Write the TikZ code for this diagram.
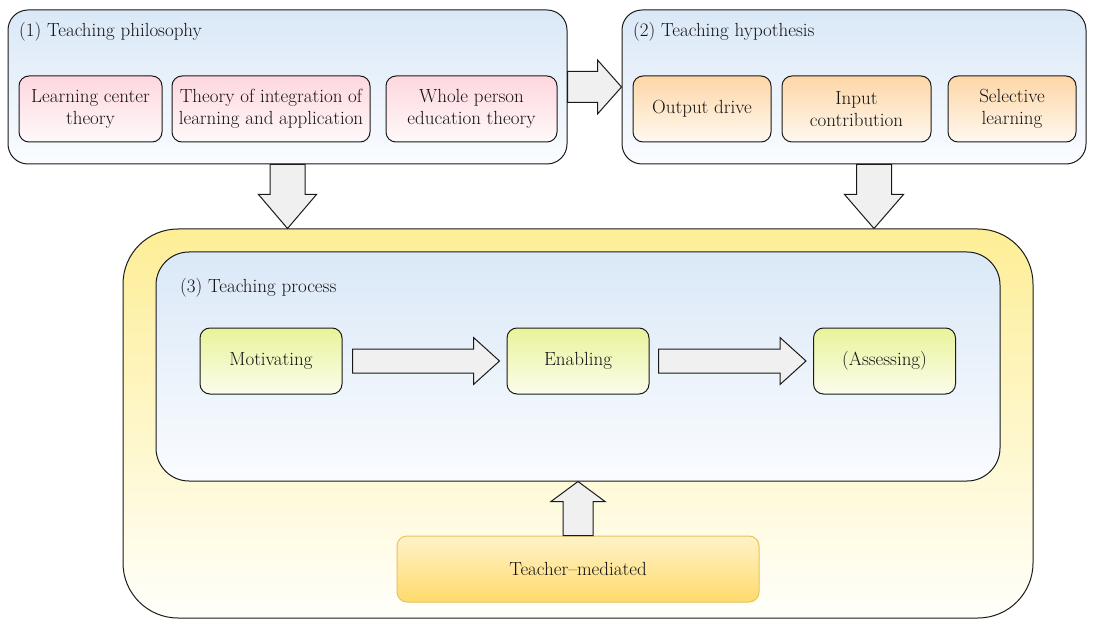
\documentclass[tikz,border=0pt]{standalone}
\usetikzlibrary{calc}
\definecolor{txt}{HTML}{141213}
\definecolor{edge}{HTML}{1A1A1A}
\definecolor{bluetop}{HTML}{DAE8F7}
\definecolor{bluebot}{HTML}{FAFCFF}
\definecolor{pinktop}{HTML}{FDD7DE}
\definecolor{pinkbot}{HTML}{FFF9FA}
\definecolor{orgtop}{HTML}{FDD6A6}
\definecolor{orgbot}{HTML}{FFF9F0}
\definecolor{grntop}{HTML}{E9F39A}
\definecolor{grnbot}{HTML}{FBFDEB}
\definecolor{yeltop}{HTML}{FDEE96}
\definecolor{yelbot}{HTML}{FFFFFB}
\definecolor{tmtop}{HTML}{FFF2C8}
\definecolor{tmbot}{HTML}{FFDB6C}
\definecolor{tmedge}{HTML}{E6C35C}
\definecolor{arrfill}{HTML}{F0F0F0}
\newcommand{\fsz}{\fontsize{19}{22}\selectfont}
\newcommand{\harrowblk}[5]{%
  \draw[barrow] let \p1=(#1), \p2=(#2) in
    (\x1,\y1+#3) -- (\x2-#5,\y1+#3) -- (\x2-#5,\y1+#4) -- (\x2,\y1)
    -- (\x2-#5,\y1-#4) -- (\x2-#5,\y1-#3) -- (\x1,\y1-#3) -- cycle;}
\newcommand{\varrowblk}[5]{%
  \draw[barrow] let \p1=(#1), \p2=(#2) in
    (\x1-#3,\y1) -- (\x1-#3,\y2+#5) -- (\x1-#4,\y2+#5) -- (\x1,\y2)
    -- (\x1+#4,\y2+#5) -- (\x1+#3,\y2+#5) -- (\x1+#3,\y1) -- cycle;}
\begin{document}
\begin{tikzpicture}[x=1pt,y=-1pt,
  every node/.style={font=\fsz, text=txt},
  panel/.style={draw=edge, line width=1pt, rounded corners=20pt,
    top color=bluetop, bottom color=bluebot, inner sep=0pt},
  item/.style={draw=edge, line width=1pt, rounded corners=10pt,
    minimum height=66pt, inner sep=0pt, align=center},
  pinkbox/.style={item, top color=pinktop, bottom color=pinkbot},
  orgbox/.style={item, top color=orgtop, bottom color=orgbot},
  grnbox/.style={item, top color=grntop, bottom color=grnbot, minimum width=142pt},
  title/.style={anchor=base west, inner sep=0pt},
  barrow/.style={draw=edge, line width=1pt, fill=arrfill, line join=miter}
]
\useasboundingbox (0,0) rectangle (1094,620);

% outer yellow frame
\node[draw=edge, line width=1pt, rounded corners=55pt,
  top color=yeltop, bottom color=yelbot, inner sep=0pt,
  minimum width=910pt, minimum height=389pt] (yel) at (578,423.5) {};
% blue process panel
\node[panel, rounded corners=33pt, minimum width=844pt, minimum height=229pt] (blue) at (578,366.5) {};

% panels 1 and 2
\node[panel, minimum width=559pt, minimum height=154pt] (p1) at (287.5,87) {};
\node[panel, minimum width=464pt, minimum height=154pt] (p2) at (854,87) {};

\node[title] (t1) at (19,37) {(1) Teaching philosophy};
\node[title] (t2) at (633,37) {(2) Teaching hypothesis};
\node[title] (t3) at (180,292) {(3) Teaching process};

% philosophy items
\node[pinkbox, minimum width=143pt] (lc) at (90.5,109) {Learning center\\theory};
\node[pinkbox, minimum width=198pt] (ti) at (271,109) {Theory of integration of\\learning and application};
\node[pinkbox, minimum width=171pt] (wp) at (471.5,109) {Whole person\\education theory};

% hypothesis items
\node[orgbox, minimum width=138pt] (od) at (702,109) {Output drive};
\node[orgbox, minimum width=149pt] (ic) at (856.5,109) {Input\\contribution};
\node[orgbox, minimum width=128pt] (sl) at (1012,109) {Selective\\learning};

% process items
\node[grnbox] (mot) at (271,361) {Motivating};
\node[grnbox] (ena) at (578,361) {Enabling};
\node[grnbox] (ass) at (884.5,361) {(Assessing)};

% teacher-mediated
\node[draw=tmedge, line width=1pt, rounded corners=10pt,
  top color=tmtop, bottom color=tmbot, inner sep=0pt,
  minimum width=362pt, minimum height=66pt] (tm) at (578,569) {Teacher--mediated};

% arrow anchor points
\coordinate (a1s) at (p1.south);
\coordinate (a1e) at (p1.south |- yel.north);
\coordinate (a2s) at ($(p2.south)+(20,0)$);
\coordinate (a2e) at (a2s |- yel.north);
\coordinate (a3s) at ($(mot.east)+(10,0)$);
\coordinate (a3e) at ($(ena.west)+(-7,0)$);
\coordinate (a4s) at ($(ena.east)+(9,0)$);
\coordinate (a4e) at ($(ass.west)+(-7,0)$);
\coordinate (a5e) at (tm.north |- blue.south);

% block arrows
\harrowblk{p1.east}{p2.west}{15.5pt}{27pt}{24pt}
\harrowblk{a3s}{a3e}{12pt}{23.5pt}{26pt}
\harrowblk{a4s}{a4e}{12pt}{23.5pt}{26pt}
\varrowblk{a1s}{a1e}{17.5pt}{29pt}{34pt}
\varrowblk{a2s}{a2e}{17.5pt}{29.5pt}{34pt}
\varrowblk{tm.north}{a5e}{15pt}{27pt}{-20pt}
\end{tikzpicture}
\end{document}
